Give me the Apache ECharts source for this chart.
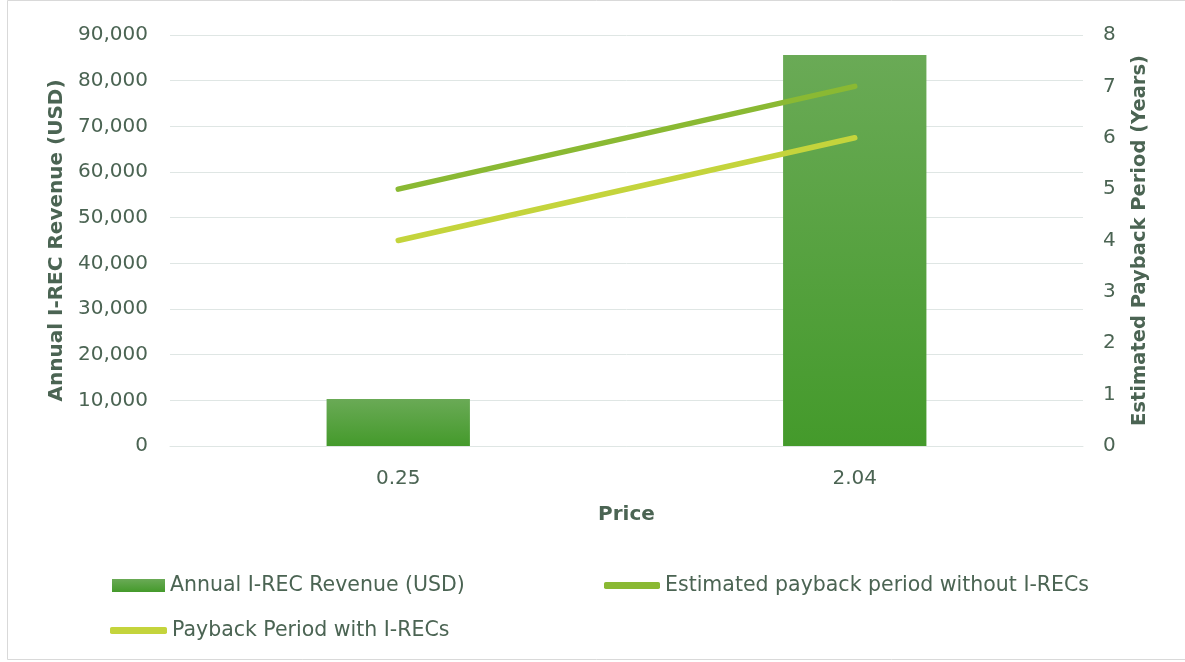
<!DOCTYPE html>
<html>
<head>
<meta charset="utf-8">
<script src="https://cdn.jsdelivr.net/npm/echarts@6/dist/echarts.min.js"></script>
<style>
  html, body { margin: 0; padding: 0; background: #ffffff; }
  #chart { width: 1185px; height: 662px; }
</style>
</head>
<body>
<div id="chart"></div>
<script>
// Price points on the category axis
const prices = ['0.25', '2.04'];
// Annual I-REC revenue, USD (left axis)
const revenue = [10300, 85600];
// Payback periods in years (right axis)
const paybackWithout = [5, 7];
const paybackWith = [4, 6];

const textColor = '#4b6453';
const fontFamily = '"DejaVu Sans", sans-serif';
const gridColor = '#dfe6e4';
const legendText = { fontSize: 20.5, color: textColor, fontFamily: fontFamily };

const chart = echarts.init(document.getElementById('chart'));

chart.setOption({
  backgroundColor: '#ffffff',
  textStyle: { fontFamily: fontFamily, color: textColor },
  graphic: [{
    type: 'rect',
    shape: { x: 7.5, y: 0.5, width: 1200, height: 659 },
    style: { fill: 'none', stroke: '#d9d9d9', lineWidth: 1 },
    silent: true
  }],
  grid: { left: 170, right: 102, top: 35, bottom: 216 },
  legend: [
    {
      left: 112, top: 575, padding: 0, itemWidth: 53, itemHeight: 13, itemGap: 4,
      textStyle: legendText,
      data: [{ name: 'Annual I-REC Revenue (USD)', icon: 'rect' }]
    },
    {
      left: 604, top: 575, padding: 0, itemWidth: 56, itemHeight: 7, itemGap: 3,
      textStyle: legendText,
      data: [{ name: 'Estimated payback period without I-RECs', icon: 'roundRect' }]
    },
    {
      left: 110, top: 620, padding: 0, itemWidth: 57, itemHeight: 7, itemGap: 3,
      textStyle: legendText,
      data: [{ name: 'Payback Period with I-RECs', icon: 'roundRect' }]
    }
  ],
  xAxis: {
    type: 'category',
    data: prices,
    name: 'Price',
    nameLocation: 'middle',
    nameGap: 59,
    nameTextStyle: { fontSize: 20, fontWeight: 'bold', color: textColor },
    axisLine: { show: true, lineStyle: { color: gridColor, width: 1 } },
    axisTick: { show: false },
    axisLabel: { fontSize: 20, color: textColor, margin: 23 }
  },
  yAxis: [
    {
      type: 'value',
      min: 0, max: 90000, interval: 10000,
      name: 'Annual I-REC Revenue (USD)',
      nameLocation: 'middle',
      nameGap: 103,
      nameTextStyle: { fontSize: 20, fontWeight: 'bold', color: textColor },
      axisLine: { show: false },
      axisTick: { show: false },
      axisLabel: {
        fontSize: 20, color: textColor, margin: 22,
        formatter: v => v.toLocaleString('en-US')
      },
      splitLine: { lineStyle: { color: gridColor, width: 1 } }
    },
    {
      type: 'value',
      min: 0, max: 8, interval: 1,
      name: 'Estimated Payback Period (Years)',
      nameLocation: 'middle',
      nameGap: 47,
      nameTextStyle: { fontSize: 19.5, fontWeight: 'bold', color: textColor },
      axisLine: { show: false },
      axisTick: { show: false },
      axisLabel: { fontSize: 20, color: textColor, margin: 20 },
      splitLine: { show: false }
    }
  ],
  series: [
    {
      name: 'Annual I-REC Revenue (USD)',
      type: 'bar',
      yAxisIndex: 0,
      barWidth: '31.4%',
      data: revenue,
      itemStyle: {
        color: new echarts.graphic.LinearGradient(0, 0, 0, 1, [
          { offset: 0, color: '#6aaa56' },
          { offset: 1, color: '#449a2b' }
        ])
      }
    },
    {
      name: 'Estimated payback period without I-RECs',
      type: 'line',
      yAxisIndex: 1,
      data: paybackWithout,
      symbol: 'none',
      lineStyle: { color: '#8ab933', width: 5.5, cap: 'round' },
      itemStyle: { color: '#8ab933' }
    },
    {
      name: 'Payback Period with I-RECs',
      type: 'line',
      yAxisIndex: 1,
      data: paybackWith,
      symbol: 'none',
      lineStyle: { color: '#c4d43c', width: 5.5, cap: 'round' },
      itemStyle: { color: '#c4d43c' }
    }
  ]
});
</script>
</body>
</html>
